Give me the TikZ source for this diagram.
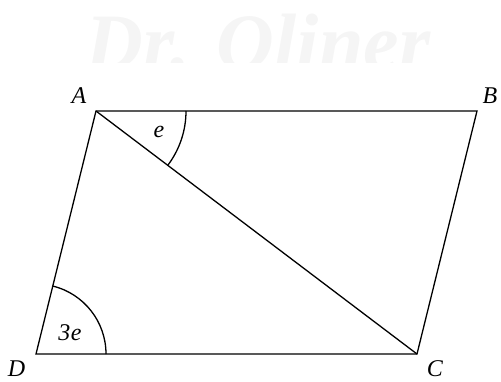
\documentclass[tikz,border=0pt]{standalone}
\usepackage{fontspec}
\setmainfont{Liberation Serif}
\newfontfamily\lbfont{Liberation Serif}
\begin{document}
\begin{tikzpicture}[x=1pt,y=-1pt, line width=1.3pt,
  lbl/.style={font={\lbfont\itshape\fontsize{24}{24}\selectfont}, inner sep=0pt},
  edge/.style={line width=1.3pt, line join=miter}]
\useasboundingbox (0,0) rectangle (501,381);
\begin{scope}
\clip (0,0) rectangle (501,62);
\node[text=black!4, font={\lbfont\bfseries\itshape\fontsize{80}{80}\selectfont}, inner sep=0pt] (wm) at (258,42) {Dr. Oliner};
\end{scope}
\coordinate (A) at (96,111);
\coordinate (B) at (477,111);
\coordinate (C) at (417,354);
\coordinate (D) at (36,354);
\draw[edge] (A) -- (B) -- (C) -- (D) -- cycle;
\draw[edge] (A) -- (C);
\draw ([shift={(90,0)}]A) arc[start angle=0, end angle=37.1, radius=90];
\draw ([shift={(70,0)}]D) arc[start angle=0, end angle=-76.2, radius=70];
\node[lbl] (la) at (79,96) {A};
\node[lbl] (lb) at (490,96) {B};
\node[lbl] (lc) at (435,369) {C};
\node[lbl] (ld) at (16.5,369) {D};
\node[lbl] (le) at (159,132) {e};
\node[lbl] (l3e) at (70,333) {3\kern0.5pt e};
\end{tikzpicture}
\end{document}
